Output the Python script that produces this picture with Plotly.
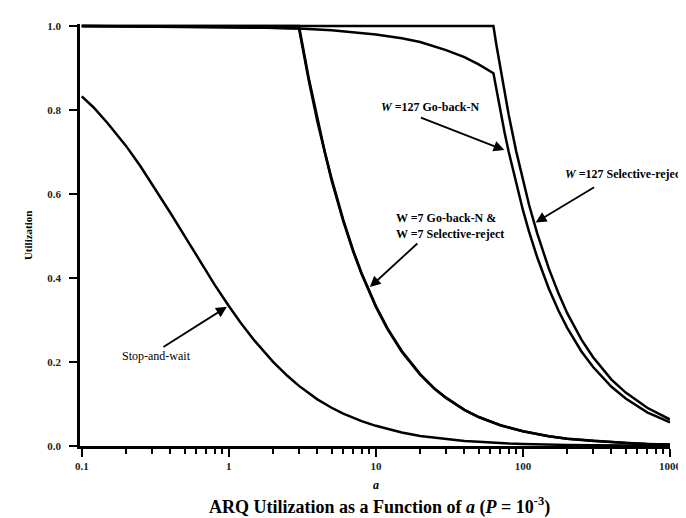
import math
import plotly.graph_objects as go

# ---- data (a on log axis, utilization) ----
a_sw = [0.1, 0.12, 0.15, 0.2, 0.25, 0.3, 0.4, 0.5, 0.6, 0.7, 0.8, 1, 1.2, 1.5, 2, 2.5, 3, 4, 5, 6,
        8, 10, 12, 15, 20, 25, 30, 40, 50, 60, 80, 100, 150, 200, 300, 500, 700, 1000]
u_sw = [0.832, 0.806, 0.768, 0.714, 0.666, 0.624, 0.555, 0.500, 0.454, 0.416, 0.384, 0.333, 0.294,
        0.250, 0.200, 0.167, 0.143, 0.111, 0.091, 0.077, 0.059, 0.048, 0.040, 0.032, 0.024, 0.020,
        0.016, 0.012, 0.010, 0.008, 0.006, 0.005, 0.003, 0.0025, 0.0017, 0.001, 0.0007, 0.0005]

a_w7 = [0.1, 0.3, 1, 2, 3, 3.5, 4, 4.5, 5, 6, 7, 8, 10, 12, 15, 20, 25, 30, 40, 50, 70, 100,
        150, 200, 300, 500, 700, 1000]
u_w7_gbn = [0.999, 0.998, 0.997, 0.995, 0.993, 0.869, 0.772, 0.695, 0.632, 0.535, 0.463, 0.409,
            0.331, 0.278, 0.224, 0.170, 0.136, 0.114, 0.086, 0.069, 0.049, 0.035, 0.023, 0.017,
            0.012, 0.007, 0.005, 0.0035]
u_w7_sr = [0.999, 0.999, 0.999, 0.999, 0.999, 0.874, 0.777, 0.699, 0.636, 0.538, 0.466, 0.411,
           0.333, 0.280, 0.226, 0.171, 0.137, 0.115, 0.086, 0.069, 0.050, 0.035, 0.023, 0.017,
           0.012, 0.007, 0.005, 0.0035]

a_w127 = [0.1, 1, 3, 5, 10, 15, 20, 30, 40, 50, 63, 66, 70, 75, 80, 90, 100, 110, 125, 150, 175,
          200, 250, 300, 400, 500, 700, 1000]
u_w127_gbn = [0.999, 0.997, 0.993, 0.989, 0.979, 0.970, 0.961, 0.942, 0.925, 0.908, 0.887, 0.847,
              0.799, 0.746, 0.700, 0.623, 0.561, 0.510, 0.449, 0.374, 0.321, 0.281, 0.225, 0.188,
              0.141, 0.113, 0.080, 0.056]
u_w127_sr = [0.999, 0.999, 0.999, 0.999, 0.999, 0.999, 0.999, 0.999, 0.999, 0.999, 0.999, 0.954,
             0.900, 0.840, 0.788, 0.701, 0.631, 0.574, 0.506, 0.422, 0.362, 0.316, 0.253, 0.211,
             0.158, 0.127, 0.091, 0.063]

x_tick_vals = [0.1, 1, 10, 100, 1000]
x_tick_text = ["0.1", "1", "10", "100", "1000"]
y_tick_vals = [0.0, 0.2, 0.4, 0.6, 0.8, 1.0]
y_tick_text = ["0.0", "0.2", "0.4", "0.6", "0.8", "1.0"]

SERIF = "Liberation Serif"
line = dict(color="black", width=2.5)

fig = go.Figure()
for xs, ys in [(a_sw, u_sw), (a_w7, u_w7_gbn), (a_w7, u_w7_sr),
               (a_w127, u_w127_gbn), (a_w127, u_w127_sr)]:
    fig.add_trace(go.Scatter(x=xs, y=ys, mode="lines", line=line, showlegend=False,
                             hoverinfo="skip"))

minor_vals = [m * d for d in [0.1, 1, 10, 100] for m in range(2, 10)]

fig.update_layout(
    width=686, height=518,
    margin=dict(l=72, r=15, t=13, b=80),
    paper_bgcolor="white", plot_bgcolor="white",
    showlegend=False,
    font=dict(family=SERIF, color="black"),
)
fig.update_xaxes(
    type="log", range=[-1.012, 3.0],
    showgrid=False, zeroline=False,
    showline=True, linecolor="black", linewidth=2.5,
    ticks="outside", ticklen=8, tickwidth=2, tickcolor="black",
    tickvals=x_tick_vals, ticktext=x_tick_text,
    tickfont=dict(family=SERIF, size=11, color="#222", weight=700),
    minor=dict(tickvals=minor_vals, ticks="outside", ticklen=5, tickwidth=1.5,
               tickcolor="black", showgrid=False),
)
fig.update_yaxes(
    range=[0, 1.004],
    showgrid=False, zeroline=False,
    showline=True, linecolor="black", linewidth=2.5,
    ticks="outside", ticklen=8, tickwidth=2, tickcolor="black",
    tickvals=y_tick_vals, ticktext=y_tick_text,
    tickfont=dict(family=SERIF, size=11, color="#222", weight=700),
    ticklabelstandoff=6,
)

ann_font = dict(family=SERIF, size=12, color="black", weight=700)

# arrows: head (a, U) on the curve, tail offset in pixels
arrows = [
    (0.97, 0.331, -65, 41),
    (9.1, 0.378, 49, -45),
    (74.8, 0.704, -85, -33),
    (122, 0.532, 60, -36),
]
for hx, hy, axp, ayp in arrows:
    fig.add_annotation(x=math.log10(hx), y=hy, xref="x", yref="y", text="",
                       showarrow=True, ax=axp, ay=ayp, arrowhead=2, arrowsize=1.2,
                       arrowwidth=1.8, arrowcolor="black", standoff=0)

labels = [
    ("Stop-and-wait", 0.1296, 0.2128, "center", dict(family=SERIF, size=12, color="black", weight=400)),
    ("W =7 Go-back-N &<br>W =7 Selective-reject", 0.5316, 0.5225, "left", ann_font),
    ("<i>W</i> =127 Go-back-N", 0.5066, 0.8038, "left", ann_font),
    ("<i>W</i> =127 Selective-reject", 0.819, 0.6454, "left", ann_font),
]
for txt, xp, yp, anchor, f in labels:
    fig.add_annotation(x=xp, y=yp, xref="paper", yref="paper", text=txt, showarrow=False,
                       xanchor=anchor, yanchor="middle", align="left", font=f)

# axis titles and caption
fig.add_annotation(x=-0.088, y=0.5, xref="paper", yref="paper", text="Utilization",
                   textangle=-90, showarrow=False, xanchor="center", yanchor="middle",
                   font=dict(family=SERIF, size=11, color="black", weight=700))
fig.add_annotation(x=0.5017, y=-0.092, xref="paper", yref="paper", text="<i>a</i>",
                   showarrow=False, xanchor="center", yanchor="middle",
                   font=dict(family=SERIF, size=12, color="black", weight=700))
fig.add_annotation(x=0.508, y=-0.142, xref="paper", yref="paper",
                   text="ARQ Utilization as a Function of <i>a</i> (<i>P</i> = 10<sup>-3</sup>)",
                   showarrow=False, xanchor="center", yanchor="middle",
                   font=dict(family=SERIF, size=18, color="black", weight=700))

fig.write_html("out.html")
